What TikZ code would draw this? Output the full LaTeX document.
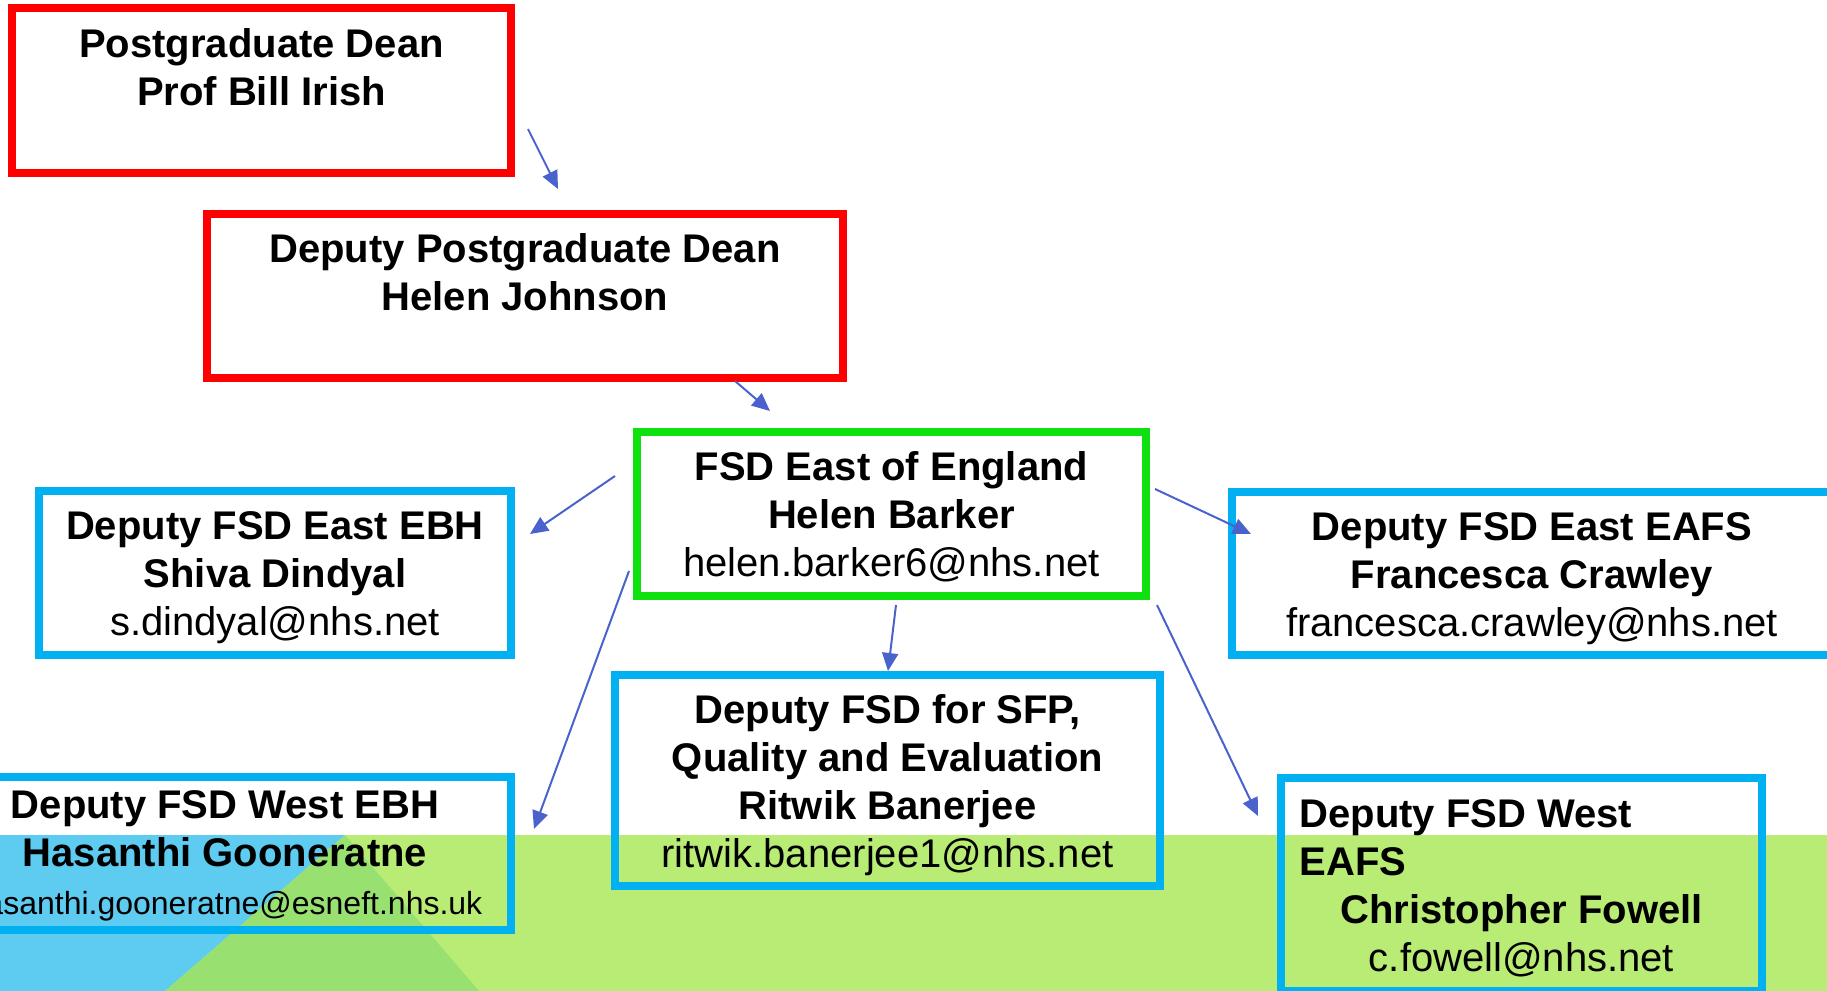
\documentclass[tikz,border=0pt]{standalone}
\usepackage{fontspec}
\setmainfont{Liberation Sans}
\usepackage{xcolor}
\usetikzlibrary{arrows.meta, positioning}

\definecolor{deanred}{HTML}{FF0000}
\definecolor{fsdgreen}{HTML}{0FE00F}
\definecolor{deputyblue}{HTML}{00B0F0}
\definecolor{linkblue}{HTML}{4A62CC}
\definecolor{bandgreen}{HTML}{B8EC75}
\definecolor{bandblue}{HTML}{5ECBF1}
\definecolor{banddark}{HTML}{98E171}

% line strut, a little lower than \strut
\newcommand{\rowstrut}{\rule[-4.6pt]{0pt}{24pt}}

\begin{document}
\begin{tikzpicture}[x=0.5pt, y=-0.5pt,
    box/.style={draw, line width=4pt, rectangle, align=center, inner sep=0pt,
        font=\fontsize{20}{24}\selectfont},
    redbox/.style={box, draw=deanred},
    greenbox/.style={box, draw=fsdgreen},
    bluebox/.style={box, draw=deputyblue},
    link/.style={draw=linkblue, line width=1pt, -{Triangle[length=9pt, width=8pt]}}]

% Page size
\useasboundingbox (0,0) rectangle (1827,991);
\clip (0,0) rectangle (1827,991);

% Background band at the bottom
\fill[bandgreen] (0,835) rectangle (1827,991);
\fill[bandblue] (0,835) -- (345,835) -- (165,991) -- (0,991) -- cycle;
\fill[banddark] (345,835) -- (479,991) -- (165,991) -- cycle;

% Deans
\node[redbox, minimum width=249.5pt, minimum height=82.5pt] (dean) at (261.5,90.5)
    {\rowstrut\textbf{Postgraduate Dean}\\\rowstrut\textbf{Prof Bill Irish}\\\rowstrut};
\node[redbox, minimum width=318pt, minimum height=82pt] (deputydean) at (525,296)
    {\rowstrut\textbf{Deputy Postgraduate Dean}\\\rowstrut\textbf{Helen Johnson}\\\rowstrut};

% FSD
\node[greenbox, minimum width=254.5pt, minimum height=82pt] (fsd) at (891.5,514)
    {\rowstrut\textbf{FSD East of England}\\\rowstrut\textbf{Helen Barker}\\\rowstrut helen.barker6@nhs.net};

% Deputies
\node[bluebox, minimum width=236pt, minimum height=82pt] (eastebh) at (275,573)
    {\rowstrut\textbf{Deputy FSD East EBH}\\\rowstrut\textbf{Shiva Dindyal}\\\rowstrut s.dindyal@nhs.net};
\node[bluebox, minimum width=300pt, minimum height=81.5pt] (eastaafs) at (1532,573.5)
    {\rowstrut\textbf{Deputy FSD East EAFS}\\\rowstrut\textbf{Francesca Crawley}\\\rowstrut francesca.crawley@nhs.net};
\node[bluebox, minimum width=272.5pt, minimum height=105.5pt] (sfp) at (887.5,780.5)
    {\rowstrut\textbf{Deputy FSD for SFP,}\\\rowstrut\textbf{Quality and Evaluation}\\\rowstrut\textbf{Ritwik Banerjee}\\\rowstrut ritwik.banerjee1@nhs.net};
\node[bluebox, minimum width=286pt, minimum height=76.5pt] (westebh) at (225,853.5)
    {\rowstrut\textbf{Deputy FSD West EBH}\\\rowstrut\textbf{Hasanthi Gooneratne}\\{\fontsize{16}{20}\selectfont\strut hasanthi.gooneratne@esneft.nhs.uk}};
\node[bluebox, minimum width=240.5pt, minimum height=106.5pt] (westeafs) at (1521.5,884.5)
    {\makebox[222pt][l]{\rowstrut\textbf{Deputy FSD West}}\\\makebox[222pt][l]{\rowstrut\textbf{EAFS}}\\\rowstrut\textbf{Christopher Fowell}\\\rowstrut c.fowell@nhs.net};

% Arrow ends
\coordinate (a1s) at (528,129);
\coordinate (a1e) at (558,189);
\coordinate (a2s) at (735,381);
\coordinate (a2e) at (770,411);
\coordinate (a3s) at (615,476);
\coordinate (a3e) at (530,534);
\coordinate (a4s) at (1155,489);
\coordinate (a4e) at (1251,534);
\coordinate (a5s) at (896,605);
\coordinate (a5e) at (888,671);
\coordinate (a6s) at (629,571);
\coordinate (a6e) at (534,829);
\coordinate (a7s) at (1157,605);
\coordinate (a7e) at (1258,816);

% Draw arrows
\draw[link] (a1s) -- (a1e);
\draw[link] (a2s) -- (a2e);
\draw[link] (a3s) -- (a3e);
\draw[link] (a4s) -- (a4e);
\draw[link] (a5s) -- (a5e);
\draw[link] (a6s) -- (a6e);
\draw[link] (a7s) -- (a7e);

\end{tikzpicture}
\end{document}
